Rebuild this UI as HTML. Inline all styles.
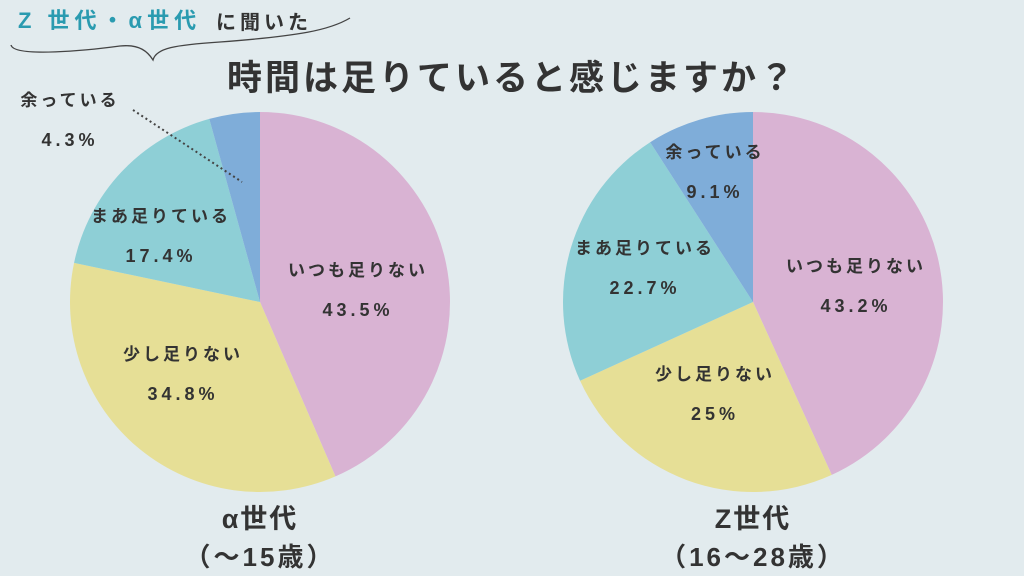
<!DOCTYPE html>
<html><head><meta charset="utf-8"><style>
html,body{margin:0;padding:0;background:#e2ebee;}
svg{display:block;}
text{font-family:"Liberation Sans","Noto Sans CJK JP",sans-serif;fill:#333;}
</style></head><body>
<svg id="chart" width="1024" height="576" viewBox="0 0 1024 576">
<rect width="1024" height="576" fill="#e2ebee"/>
<text x="18" y="28" font-size="22" font-weight="bold" style="fill:#2a9bb0" letter-spacing="5">Z 世代・α世代</text>
<text x="216" y="29" font-size="20" font-weight="bold" letter-spacing="4">に聞いた</text>
<path d="M11,45 C14,58 90,50 120,46 C140,44 148,52 153,60 C156,48 175,45 220,42 C300,36 330,30 350,18" fill="none" stroke="#444" stroke-width="1.3"/>
<text x="512" y="90" font-size="35" font-weight="bold" text-anchor="middle" letter-spacing="3">時間は足りていると感じますか？</text>
<g id="pies"></g>
<line x1="133" y1="110" x2="242" y2="182" stroke="#444" stroke-width="2" stroke-dasharray="2,3"/>
<text x="260" y="528" font-size="27" font-weight="bold" text-anchor="middle" letter-spacing="2">α世代</text>
<text x="260" y="566" font-size="26" font-weight="bold" text-anchor="middle" letter-spacing="3">（〜15歳）</text>
<text x="753" y="528" font-size="27" font-weight="bold" text-anchor="middle" letter-spacing="2">Z世代</text>
<text x="753" y="566" font-size="26" font-weight="bold" text-anchor="middle" letter-spacing="3">（16〜28歳）</text>
</svg>
<script>
const categories = ["いつも足りない","少し足りない","まあ足りている","余っている"];
const alphaValues = [43.5, 34.8, 17.4, 4.3];
const zValues = [43.2, 25, 22.7, 9.1];
const alphaLabels = ["43.5%","34.8%","17.4%","4.3%"];
const zLabels = ["43.2%","25%","22.7%","9.1%"];
const colors = ["#d9b3d3","#e6df96","#8ecfd6","#7fadd9"];
const NS="http://www.w3.org/2000/svg";
const g=document.getElementById('pies');
function mk(t,a){const e=document.createElementNS(NS,t);for(const k in a)e.setAttribute(k,a[k]);return e;}
function pie(cx,cy,r,vals,labels,prefix,labelPos){
  const tot=vals.reduce((a,b)=>a+b,0);let a0=0;
  vals.forEach((v,i)=>{
    const a1=a0+v/tot*2*Math.PI;
    const x0=cx+r*Math.sin(a0),y0=cy-r*Math.cos(a0),x1=cx+r*Math.sin(a1),y1=cy-r*Math.cos(a1);
    const p=mk('path',{d:`M${cx},${cy}L${x0},${y0}A${r},${r} 0 ${a1-a0>Math.PI?1:0} 1 ${x1},${y1}Z`,fill:colors[i]});
    
    
    g.appendChild(p);
    const lp=labelPos[i];
    const t1=mk('text',{x:lp[0],y:lp[1],'font-size':17,'font-weight':'bold','text-anchor':'middle','letter-spacing':3});
    t1.textContent=categories[i];
    
    
    g.appendChild(t1);
    const t2=mk('text',{x:lp[0],y:lp[1]+40,'font-size':18,'font-weight':'bold','text-anchor':'middle','letter-spacing':4});
    t2.textContent=labels[i];
    
    
    g.appendChild(t2);
    a0=a1;
  });
}
pie(260,302,190,alphaValues,alphaLabels,'alpha',[[358,276],[183,360],[161,222],[70,106]]);
pie(753,302,190,zValues,zLabels,'z',[[856,272],[715,380],[645,254],[715,158]]);
</script>
</body></html>
